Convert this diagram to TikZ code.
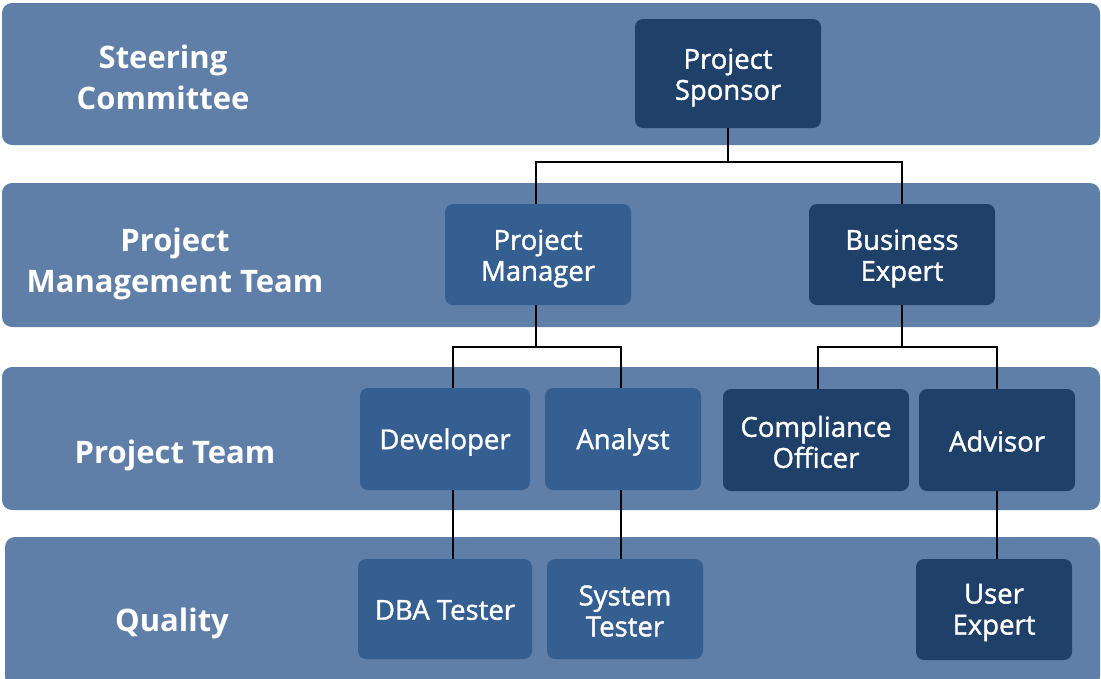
\documentclass[tikz,border=0pt]{standalone}
\usepackage{fontspec}
\setmainfont{Open Sans}
\newfontfamily\boxfont[FakeBold=1.4]{Open Sans}
\definecolor{bandc}{HTML}{5F7FA8}
\definecolor{lightc}{HTML}{365F91}
\definecolor{darkc}{HTML}{1F4069}
\begin{document}
\begin{tikzpicture}[x=1pt,y=-1pt,
  band/.style={fill=bandc, draw=none, rounded corners=10pt, inner sep=0pt},
  bandlabel/.style={text=white, font=\fontsize{31}{41}\selectfont\bfseries, align=center, inner sep=0pt},
  lbox/.style={fill=lightc, draw=none, rounded corners=8pt, inner sep=0pt},
  dbox/.style={lbox, fill=darkc},
  btext/.style={text=white, align=center, inner sep=0pt, font=\boxfont\fontsize{27.5}{31}\selectfont},
  conn/.style={draw=black, line width=2pt}]
\useasboundingbox (0,0) rectangle (1101,678);
% bands
\node[band, minimum width=1098, minimum height=142] (b1) at (551,74) {};
\node[band, minimum width=1098, minimum height=144] (b2) at (551,255) {};
\node[band, minimum width=1098, minimum height=143] (b3) at (551,438.5) {};
\node[band, minimum width=1095, minimum height=150] (b4) at (552.5,612) {};
% band labels
\node[bandlabel] (l1) at (163,77) {Steering\\Committee};
\node[bandlabel] (l2) at (175,264) {Project\\Management Team};
\node[bandlabel] (l3) at (175,455) {Project Team};
\node[bandlabel] (l4) at (172,623) {Quality};
% boxes
\node[dbox, minimum width=186, minimum height=109] (sponsor) at (728,73.5) {};
\node[lbox, minimum width=186, minimum height=101] (pm) at (538,254.5) {};
\node[dbox, minimum width=186, minimum height=101] (be) at (902,254.5) {};
\node[lbox, minimum width=170, minimum height=102] (dev) at (445,439) {};
\node[lbox, minimum width=156, minimum height=102] (ana) at (623,439) {};
\node[dbox, minimum width=186, minimum height=102] (co) at (816,440) {};
\node[dbox, minimum width=156, minimum height=102] (adv) at (997,440) {};
\node[lbox, minimum width=174, minimum height=100] (dba) at (445,609) {};
\node[lbox, minimum width=156, minimum height=100] (sys) at (625,609) {};
\node[dbox, minimum width=156, minimum height=101] (ue) at (994,609.5) {};
% box texts
\node[btext] (tsponsor) at ([yshift=-4pt]sponsor.center) {Project\\Sponsor};
\node[btext] (tpm) at ([yshift=-4pt]pm.center) {Project\\Manager};
\node[btext] (tbe) at ([yshift=-4pt]be.center) {Business\\Expert};
\node[btext] (tdev) at ([yshift=-3pt]dev.center) {Developer};
\node[btext] (tana) at ([yshift=-3pt]ana.center) {Analyst};
\node[btext] (tco) at ([yshift=-2pt]co.center) {Compliance\\Officer};
\node[btext] (tadv) at ([yshift=-1pt]adv.center) {Advisor};
\node[btext] (tdba) at ([yshift=-1pt]dba.center) {DBA Tester};
\node[btext] (tsys) at ([yshift=-2pt]sys.center) {System\\Tester};
\node[btext] (tue) at ([yshift=-3pt]ue.center) {User\\Expert};
% connectors
\draw[conn] (sponsor.south) -- ++(0,34) coordinate (j1);
\draw[conn] ([xshift=-2pt]pm.north) |- (j1) -| (be.north);
\draw[conn] ([xshift=-2pt]pm.south) -- ++(0,42) coordinate (j2);
\draw[conn] ([xshift=8pt]dev.north) |- (j2) -| ([xshift=-2pt]ana.north);
\draw[conn] (be.south) -- ++(0,42) coordinate (j3);
\draw[conn] ([xshift=2pt]co.north) |- (j3) -| (adv.north);
\draw[conn] ([xshift=8pt]dev.south) -- ([xshift=8pt]dev.south |- dba.north);
\draw[conn] ([xshift=-2pt]ana.south) -- ([xshift=-2pt]ana.south |- sys.north);
\draw[conn] (adv.south) -- (adv.south |- ue.north);
\end{tikzpicture}
\end{document}
